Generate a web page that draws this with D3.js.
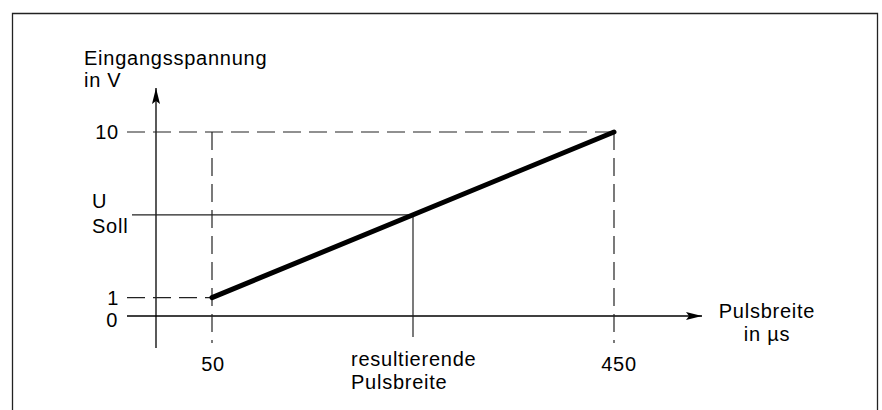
<!DOCTYPE html>
<html lang="de">
<head>
<meta charset="UTF-8">
<title>Eingangsspannung / Pulsbreite</title>
<script src="https://d3js.org/d3.v7.min.js"></script>
<style>
  body { margin: 0; background: #fff; }
  text { font-family: "Liberation Sans", Arial, Helvetica, sans-serif; font-size: 20px; letter-spacing: 0.75px; fill: #000; }
</style>
</head>
<body>
<div id="chart"></div>
<script>
// data
const xTicks = [50, 450];
const yTicks = [0, 1, 10];
const linePts = [[50, 1], [450, 10]];
const uSoll = 5.5;
const xResult = 250;

const width = 882, height = 410;

const svg = d3.select("#chart").append("svg")
  .attr("width", width).attr("height", height);

// frame (bottom edge runs out of the picture)
svg.append("path")
  .attr("d", "M12.5,412 V13.5 H877.5 V412")
  .attr("fill", "none").attr("stroke", "#222").attr("stroke-width", 1.3);

const x = d3.scaleLinear().domain([50, 450]).range([212, 614]);
const y = d3.scaleLinear().domain([0, 10]).range([316, 132]);

const axisX = 156;   // where the vertical axis sits
const dash = "18,8";

svg.append("defs").append("marker")
  .attr("id", "arr").attr("viewBox", "0 0 16 8")
  .attr("refX", 16).attr("refY", 4)
  .attr("markerWidth", 16).attr("markerHeight", 8)
  .attr("markerUnits", "userSpaceOnUse")
  .attr("orient", "auto")
  .append("path").attr("d", "M0,0 L16,4 L0,8 L3,4 Z").attr("fill", "#000");

// axes
svg.append("line")
  .attr("x1", 127).attr("x2", 702)
  .attr("y1", y(0)).attr("y2", y(0))
  .attr("stroke", "#000").attr("stroke-width", 1.3)
  .attr("marker-end", "url(#arr)");
svg.append("line")
  .attr("x1", axisX).attr("x2", axisX)
  .attr("y1", 348).attr("y2", 88)
  .attr("stroke", "#000").attr("stroke-width", 1.3)
  .attr("marker-end", "url(#arr)");

// guide lines
const g = svg.append("g").attr("fill", "none").attr("stroke", "#222").attr("stroke-width", 1.2);
g.append("line").attr("x1", 127).attr("x2", x(450)).attr("y1", y(10)).attr("y2", y(10)).attr("stroke-dasharray", dash);
g.append("line").attr("x1", 127).attr("x2", x(50)).attr("y1", y(1)).attr("y2", y(1)).attr("stroke-dasharray", dash);
g.append("line").attr("x1", x(50)).attr("x2", x(50)).attr("y1", y(10)).attr("y2", 343).attr("stroke-dasharray", dash);
g.append("line").attr("x1", x(450)).attr("x2", x(450)).attr("y1", y(10)).attr("y2", 343).attr("stroke-dasharray", dash);
g.append("line").attr("x1", 132).attr("x2", x(xResult)).attr("y1", y(uSoll)).attr("y2", y(uSoll));
g.append("line").attr("x1", x(xResult)).attr("x2", x(xResult)).attr("y1", y(uSoll)).attr("y2", 337);

// characteristic
svg.append("path")
  .datum(linePts)
  .attr("d", d3.line().x(d => x(d[0])).y(d => y(d[1])))
  .attr("fill", "none").attr("stroke", "#000").attr("stroke-width", 5).attr("stroke-linecap", "round");

// tick labels
svg.selectAll(".yt").data(yTicks).enter().append("text")
  .attr("class", "yt")
  .attr("x", d => d === 0 ? 118 : 119).attr("y", d => y(d) + (d === 0 ? 4 : 0))
  .attr("dy", "0.36em").attr("text-anchor", "end")
  .text(d => d);
svg.selectAll(".xt").data(xTicks).enter().append("text")
  .attr("class", "xt")
  .attr("x", d => x(d) + (d === 450 ? 5 : 1)).attr("y", 371)
  .attr("text-anchor", "middle")
  .text(d => d);

// labels
svg.append("text").attr("x", 84).attr("y", 65).text("Eingangsspannung");
svg.append("text").attr("x", 84).attr("y", 87).text("in V");
svg.append("text").attr("x", 92).attr("y", 208).text("U");
svg.append("text").attr("x", 92).attr("y", 233).text("Soll");
svg.append("text").attr("x", 351).attr("y", 366).text("resultierende");
svg.append("text").attr("x", 351).attr("y", 389).text("Pulsbreite");
svg.append("text").attr("x", 767).attr("y", 318).attr("text-anchor", "middle").text("Pulsbreite");
svg.append("text").attr("x", 767).attr("y", 341).attr("text-anchor", "middle").text("in µs");
</script>
</body>
</html>
